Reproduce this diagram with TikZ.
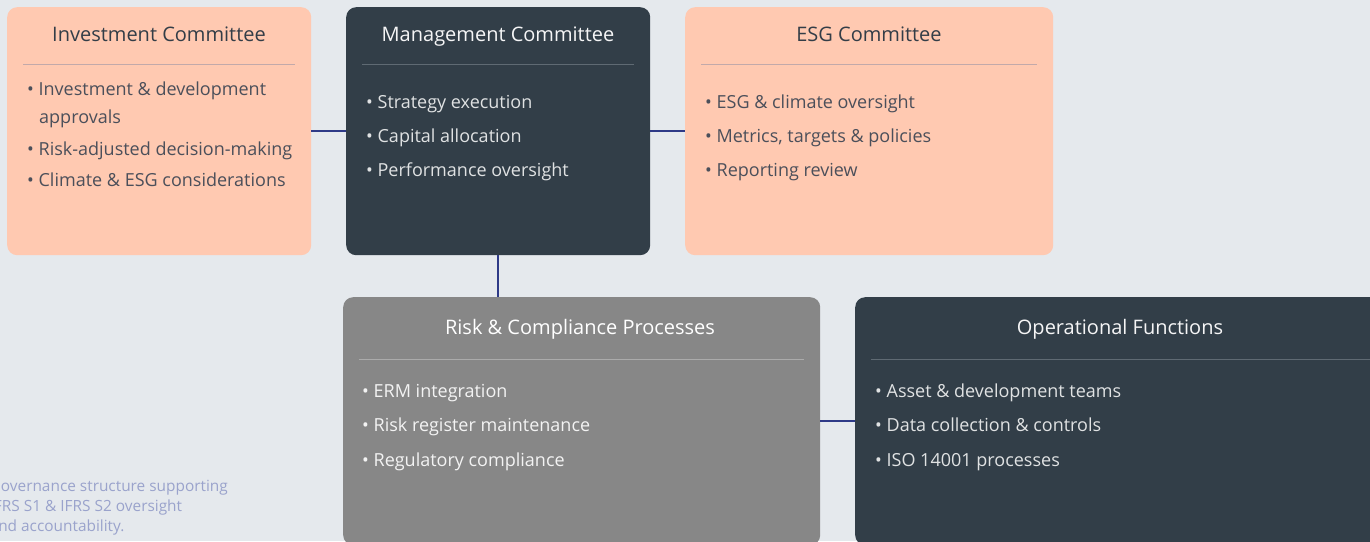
\documentclass[tikz,border=0pt]{standalone}
\usepackage{fontspec}
\setmainfont{Open Sans}
\definecolor{bg}{HTML}{E5E9ED}
\definecolor{peach}{HTML}{FFC9B1}
\definecolor{slate}{HTML}{323E48}
\definecolor{grayb}{HTML}{878787}
\definecolor{conn}{HTML}{2E3A87}
\definecolor{peachtitle}{HTML}{333D47}
\definecolor{peachtext}{HTML}{4B4F5A}
\definecolor{peachrule}{HTML}{C2A9AA}
\definecolor{slaterule}{HTML}{5F6A73}
\definecolor{grayrule}{HTML}{ABABAB}
\definecolor{foot}{HTML}{9AA3CC}
\tikzset{
  boxbase/.style={rounded corners=10pt, anchor=north west, inner sep=0pt, minimum height=248pt},
  peachbox/.style={boxbase, fill=peach},
  slatebox/.style={boxbase, fill=slate},
  graybox/.style={boxbase, fill=grayb},
  ttl/.style={font=\fontsize{20}{24}\selectfont, inner sep=0pt, anchor=mid},
  itm/.style={font=\fontsize{18}{22}\selectfont, inner sep=0pt, anchor=mid west},
  link/.style={draw=conn, line width=1.6pt},
  foottext/.style={font=\fontsize{15.4}{20}\selectfont, text=foot, inner sep=0pt, anchor=mid west}
}
\begin{document}
\begin{tikzpicture}[x=1pt,y=-1pt]
\useasboundingbox (0,0) rectangle (1370,541);
\clip (0,0) rectangle (1370,541);
\fill[bg] (0,0) rectangle (1370,541);
% boxes
\node[peachbox, minimum width=304pt] (inv) at (7,7) {};
\node[slatebox, minimum width=304pt] (mgmt) at (346,7) {};
\node[peachbox, minimum width=368pt] (esg) at (685,7) {};
\node[graybox, minimum width=477pt] (risk) at (343,297) {};
\node[slatebox, minimum width=530pt] (ops) at (855,297) {};
% connectors
\draw[link] (inv) -- (mgmt);
\draw[link] (mgmt) -- (esg);
\draw[link] (mgmt.south) -- (mgmt.south |- risk.north);
\draw[link] (risk) -- (ops);
% Investment committee
\node[ttl, text=peachtitle] (invt) at (159,39) {Investment Committee};
\draw[peachrule, line width=0.8pt] (23,64) -- (295,64);
\node[itm, text=peachtext] (inv1) at (27,93) {• Investment \& development};
\node[itm, text=peachtext] (inv1b) at (39,121) {approvals};
\node[itm, text=peachtext] (inv2) at (27,153) {• Risk-adjusted decision-making};
\node[itm, text=peachtext] (inv3) at (27,184) {• Climate \& ESG considerations};
% Management committee
\node[ttl, text=white!95!slate] (mgmtt) at (498,39) {Management Committee};
\draw[slaterule, line width=0.8pt] (362,64) -- (634,64);
\node[itm, text=white!85!slate] (m1) at (366,106) {• Strategy execution};
\node[itm, text=white!85!slate] (m2) at (366,140) {• Capital allocation};
\node[itm, text=white!85!slate] (m3) at (366,174) {• Performance oversight};
% ESG committee
\node[ttl, text=peachtitle] (esgt) at (869,39) {ESG Committee};
\draw[peachrule, line width=0.8pt] (701,64) -- (1037,64);
\node[itm, text=peachtext] (e1) at (705,106) {• ESG \& climate oversight};
\node[itm, text=peachtext] (e2) at (705,140) {• Metrics, targets \& policies};
\node[itm, text=peachtext] (e3) at (705,174) {• Reporting review};
% Risk
\node[ttl, text=white] (riskt) at (580,332) {Risk \& Compliance Processes};
\draw[grayrule, line width=0.8pt] (359,359) -- (804,359);
\node[itm, text=white!90!grayb] (r1) at (362,395) {• ERM integration};
\node[itm, text=white!90!grayb] (r2) at (362,429) {• Risk register maintenance};
\node[itm, text=white!90!grayb] (r3) at (362,464) {• Regulatory compliance};
% Operational
\node[ttl, text=white!95!slate] (opst) at (1120,332) {Operational Functions};
\draw[slaterule, line width=0.8pt] (871,359) -- (1370,359);
\node[itm, text=white!85!slate] (o1) at (875,395) {• Asset \& development teams};
\node[itm, text=white!85!slate] (o2) at (875,429) {• Data collection \& controls};
\node[itm, text=white!85!slate] (o3) at (875,464) {• ISO 14001 processes};
% footer
\node[foottext] (f1) at (-10.5,489) {Governance structure supporting};
\node[foottext] (f2) at (-10.5,509) {IFRS S1 \& IFRS S2 oversight};
\node[foottext] (f3) at (-10.5,529) {and accountability.};
\end{tikzpicture}
\end{document}
